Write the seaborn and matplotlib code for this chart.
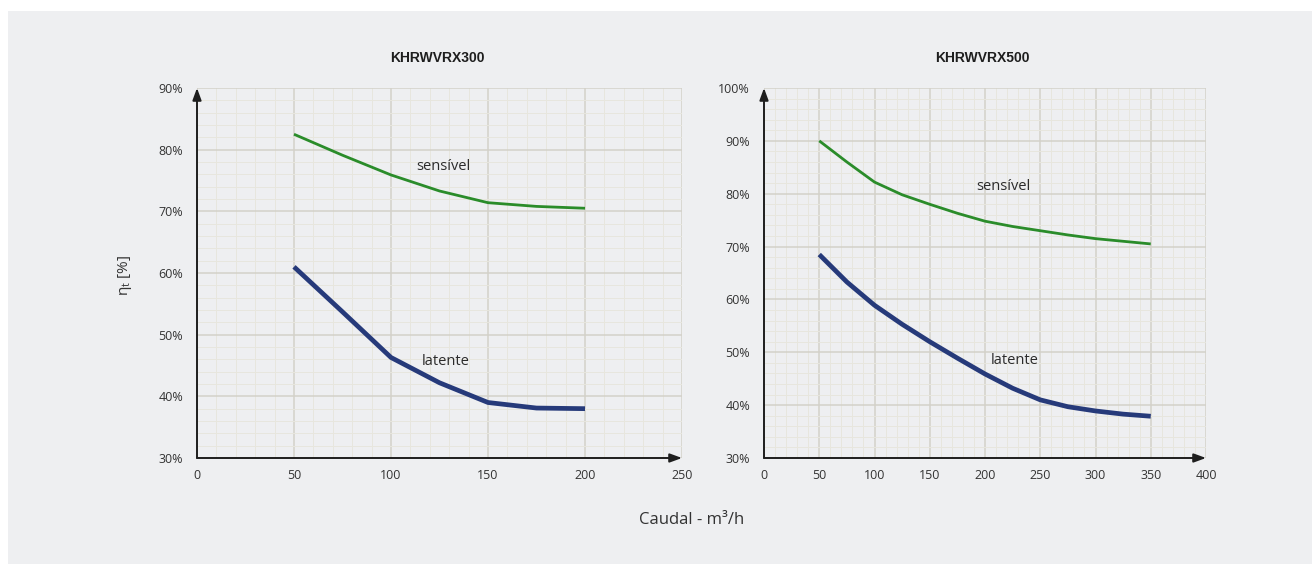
import numpy as np
import pandas as pd
import matplotlib
matplotlib.use("Agg")
import matplotlib.pyplot as plt
from matplotlib.ticker import MultipleLocator, PercentFormatter
from matplotlib.patches import Rectangle
import seaborn as sns

# ---- data: thermal efficiency vs. air flow ----
flow_300 = [50, 75, 100, 125, 150, 175, 200]
sens_300 = [82.5, 79.1, 75.9, 73.3, 71.4, 70.8, 70.5]
lat_300 = [61.0, 53.7, 46.3, 42.2, 39.0, 38.1, 38.0]

flow_500 = [50, 75, 100, 125, 150, 175, 200, 225, 250, 275, 300, 325, 350]
sens_500 = [90.0, 86.0, 82.2, 79.8, 78.0, 76.3, 74.8, 73.8, 73.0, 72.2, 71.5, 71.0, 70.5]
lat_500 = [68.5, 63.3, 58.9, 55.3, 52.0, 48.9, 45.9, 43.2, 41.0, 39.7, 38.9, 38.3, 37.9]

titles = ["KHRWVRX300", "KHRWVRX500"]
series_names = ["sensível", "latente"]
x_label = "Caudal - m³/h"

sns.set_theme(style="white")
plt.rcParams["font.family"] = ["Open Sans", "DejaVu Sans"]

BG = "#eeeff1"
TXT = "#333333"
GREEN = "#2a8c2a"
NAVY = "#263a7a"
MAJOR = "#d3d1c9"
MINOR = "#e7e6de"

W, H = 1312, 564
fig = plt.figure(figsize=(W / 100, H / 100), dpi=100)
fig.patch.set_facecolor("white")
fig.patches.append(Rectangle((8 / W, 0), 1 - 8 / W, 1 - 11 / H,
                             transform=fig.transFigure, facecolor=BG,
                             edgecolor="none", zorder=-5))


def px_axes(x0, x1, y0, y1):
    return fig.add_axes([x0 / W, (H - y1) / H, (x1 - x0) / W, (y1 - y0) / H])


def make_frame(flow, sens, lat):
    return pd.DataFrame({
        "caudal": list(flow) + list(flow),
        "eta": list(sens) + list(lat),
        "serie": [series_names[0]] * len(flow) + [series_names[1]] * len(flow),
    })


panels = [
    dict(df=make_frame(flow_300, sens_300, lat_300), box=(197, 682, 88, 458),
         xlim=(0, 250), ylim=(30, 90), title=titles[0],
         sens_pos=(127, 77.3), lat_pos=(128, 45.7)),
    dict(df=make_frame(flow_500, sens_500, lat_500), box=(764, 1206, 88, 458),
         xlim=(0, 400), ylim=(30, 100), title=titles[1],
         sens_pos=(217, 81.3), lat_pos=(227, 48.4)),
]

for p in panels:
    ax = px_axes(*p["box"])
    ax.set_facecolor(BG)
    sns.lineplot(data=p["df"], x="caudal", y="eta", hue="serie", size="serie",
                 palette={series_names[0]: GREEN, series_names[1]: NAVY},
                 sizes={series_names[0]: 2.0, series_names[1]: 3.4},
                 legend=False, ax=ax, zorder=3)
    for ln in ax.get_lines():
        ln.set_solid_joinstyle("round")
        ln.set_solid_capstyle("butt")
    ax.set_xlim(*p["xlim"])
    ax.set_ylim(*p["ylim"])
    ax.xaxis.set_major_locator(MultipleLocator(50))
    ax.xaxis.set_minor_locator(MultipleLocator(10))
    ax.yaxis.set_major_locator(MultipleLocator(10))
    ax.yaxis.set_minor_locator(MultipleLocator(2))
    ax.yaxis.set_major_formatter(PercentFormatter(xmax=100, decimals=0))
    ax.grid(which="major", color=MAJOR, lw=1.1, zorder=1)
    ax.grid(which="minor", color=MINOR, lw=0.7, zorder=0)
    ax.set_axisbelow(True)
    ax.tick_params(which="both", length=0, labelsize=9, colors=TXT)
    ax.tick_params(axis="y", pad=10)
    ax.tick_params(axis="x", pad=8)
    ax.set_xlabel("")
    ax.set_ylabel("")
    for s in ax.spines.values():
        s.set_visible(False)
    # axes drawn as arrows
    arrow = dict(arrowstyle="-|>,head_length=0.6,head_width=0.22",
                 color="#1e1e1e", lw=1.4, shrinkA=0, shrinkB=0)
    ax.annotate("", xy=(0, 1), xytext=(0, 0), xycoords="axes fraction",
                arrowprops=arrow, zorder=5, annotation_clip=False)
    ax.annotate("", xy=(1, 0), xytext=(0, 0), xycoords="axes fraction",
                arrowprops=arrow, zorder=5, annotation_clip=False)
    ax.text(*p["sens_pos"], series_names[0], ha="center", va="center",
            fontsize=10.5, color="#2b2b2b", zorder=4)
    ax.text(*p["lat_pos"], series_names[1], ha="center", va="center",
            fontsize=10.5, color="#2b2b2b", zorder=4)
    x0, x1, _, _ = p["box"]
    fig.text((x0 + x1) / 2 / W - 0.002, 1 - 58 / H, p["title"], ha="center",
             va="center", fontsize=10, fontweight="bold", color="#1e1e1e",
             family=["Liberation Sans Narrow", "Liberation Sans", "DejaVu Sans"])

fig.text(125 / W, 1 - 275 / H, "η$_{\\mathregular{t}}$ [%]", rotation=90,
         ha="center", va="center", fontsize=11, color=TXT)
fig.text(692 / W, 1 - 520 / H, x_label, ha="center", va="center",
         fontsize=12, color=TXT)

fig.savefig("out.png", dpi=100, facecolor=fig.get_facecolor())
